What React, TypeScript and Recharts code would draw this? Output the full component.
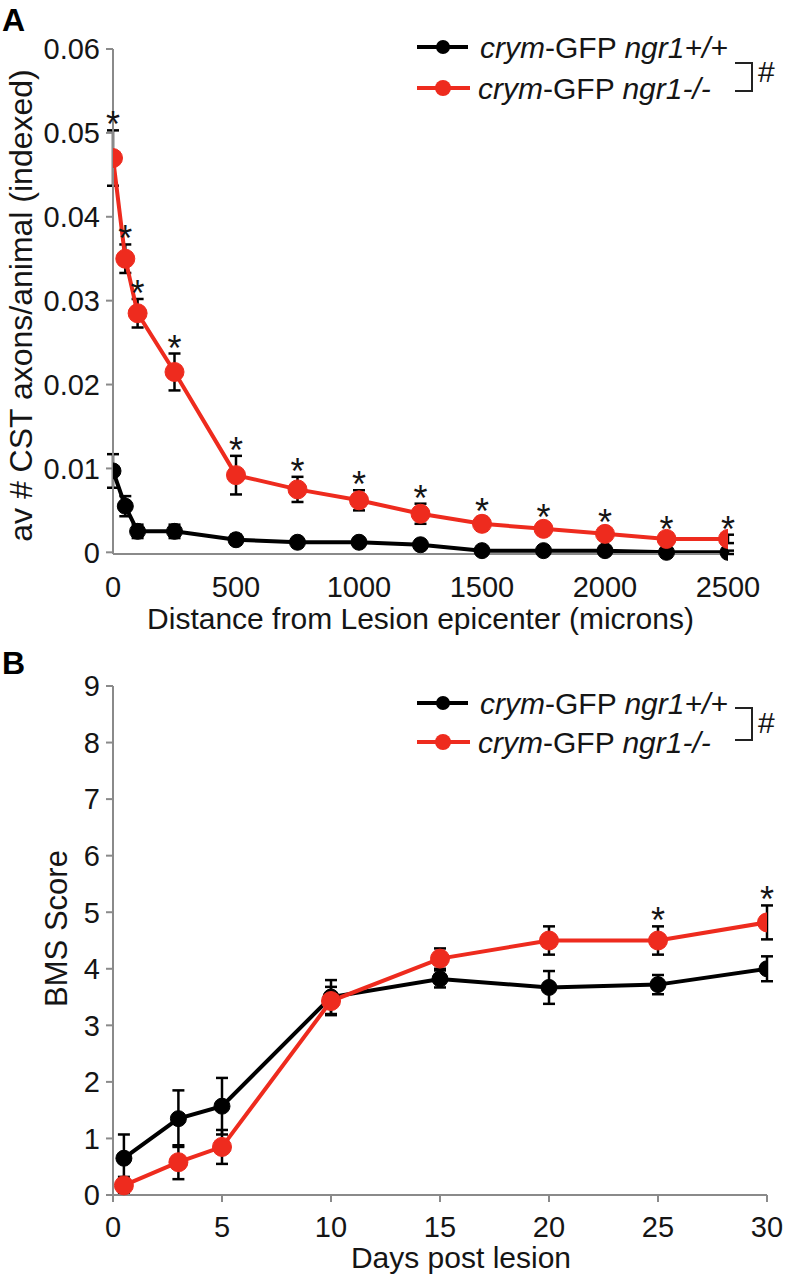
import React from "react";
import { LineChart, Line, XAxis, YAxis, ErrorBar, Legend, LabelList, Label } from "recharts";

// Panel A: CST axons vs distance from lesion
const distance = [0, 50, 100, 250, 500, 750, 1000, 1250, 1500, 1750, 2000, 2250, 2500];
const axonsWT = [0.0097, 0.0055, 0.0025, 0.0025, 0.0015, 0.0012, 0.0012, 0.0009, 0.0002, 0.0002, 0.0002, 0.0, 0.0];
const axonsWTErr = [0.002, 0.0012, 0.0008, 0.0008, 0.0006, 0.0004, 0.0004, 0.0004, 0.0003, 0.0003, 0.0003, 0.0002, 0.0002];
const axonsKO = [0.047, 0.035, 0.0285, 0.0215, 0.0092, 0.0075, 0.0062, 0.0046, 0.0034, 0.0028, 0.0022, 0.0016, 0.0016];
const axonsKOErr = [0.0033, 0.0017, 0.0017, 0.0022, 0.0023, 0.0015, 0.0012, 0.0012, 0.0008, 0.0007, 0.0007, 0.0005, 0.0005];
const axonsSig = [true, true, true, true, true, true, true, true, true, true, true, true, true];
const distanceTicks = [0, 500, 1000, 1500, 2000, 2500];
const axonsTicks = [0, 0.01, 0.02, 0.03, 0.04, 0.05, 0.06];

// Panel B: BMS score vs days post lesion
const days = [0.5, 3, 5, 10, 15, 20, 25, 30];
const bmsWT = [0.65, 1.35, 1.57, 3.5, 3.82, 3.67, 3.72, 4.0];
const bmsWTErr = [0.42, 0.5, 0.5, 0.3, 0.15, 0.29, 0.17, 0.22];
const bmsKO = [0.17, 0.58, 0.85, 3.43, 4.18, 4.5, 4.5, 4.82];
const bmsKOErr = [0.15, 0.3, 0.3, 0.25, 0.18, 0.25, 0.25, 0.3];
const bmsSig = [false, false, false, false, false, false, true, true];
const dayTicks = [0, 5, 10, 15, 20, 25, 30];
const bmsTicks = [0, 1, 2, 3, 4, 5, 6, 7, 8, 9];

const RED = "#ee2b1e";
const AXIS = "#8a8a8a";
const INK = "#151515";
const FONT = "Liberation Sans, Arial, sans-serif";

const dataA = distance.map((x, i) => ({
  x, wt: axonsWT[i], wtErr: axonsWTErr[i], ko: axonsKO[i], koErr: axonsKOErr[i], sig: axonsSig[i],
}));
const dataB = days.map((x, i) => ({
  x, wt: bmsWT[i], wtErr: bmsWTErr[i], ko: bmsKO[i], koErr: bmsKOErr[i], sig: bmsSig[i],
}));

const starTop = (d: any) => (d.sig ? d.ko + d.koErr : null);

const Star = (props: any) => {
  const { x, y, value } = props;
  if (value == null || x == null || y == null) return null;
  return (
    <text x={x} y={y + 7} textAnchor="middle" fontSize={36} fontFamily={FONT} fill={INK}>
      *
    </text>
  );
};

const LegendBox = ({ redY, bracket, hashY }: any) => (
  <svg width={379} height={90}>
    <line x1={7} y1={17} x2={58} y2={17} stroke="#000" strokeWidth={4} />
    <circle cx={33} cy={17} r={7} fill="#000" />
    <line x1={7} y1={redY} x2={60} y2={redY} stroke={RED} strokeWidth={4} />
    <circle cx={33} cy={redY} r={8} fill={RED} />
    <text x={70} y={28} fontSize={30} fontFamily={FONT} fill={INK}>
      <tspan fontStyle="italic">crym</tspan>-GFP <tspan fontStyle="italic">ngr1+/+</tspan>
    </text>
    <text x={68} y={redY + 11} fontSize={30} fontFamily={FONT} fill={INK}>
      <tspan fontStyle="italic">crym</tspan>-GFP <tspan fontStyle="italic">ngr1-/-</tspan>
    </text>
    <polyline points={`325,${bracket[0]} 342,${bracket[0]} 342,${bracket[1]} 325,${bracket[1]}`} fill="none" stroke="#222" strokeWidth={2} />
    <text x={348} y={hashY + 10} fontSize={30} fontFamily={FONT} fill={INK}>#</text>
  </svg>
);

const tickStyle = { fontSize: 29, fill: INK, fontFamily: FONT };

function Panel({
  data, xTicks, yTicks, xDomain, yDomain, marginTop, marginRight, xHeight, xTitle, yTitle, yTitleX, yTitleDy, yTitleSize,
  xTitleDx, xTitleDy, yFmt, xTickSize, xTickMargin, legendTop, legendProps,
}: any) {
  return (
    <LineChart width={789} height={640} data={data} margin={{ top: marginTop, right: marginRight, bottom: 0, left: 0 }}>
      <XAxis
        dataKey="x"
        type="number"
        domain={xDomain}
        ticks={xTicks}
        allowDataOverflow
        height={xHeight}
        stroke={AXIS}
        strokeWidth={2}
        tickSize={xTickSize}
        tickMargin={xTickMargin}
        tick={tickStyle}
        interval={0}
      >
        <Label
          content={({ viewBox }: any) => (
            <text x={viewBox.x + viewBox.width / 2 + xTitleDx} y={viewBox.y + xTitleDy} textAnchor="middle" fontSize={30} fontFamily={FONT} fill={INK}>
              {xTitle}
            </text>
          )}
        />
      </XAxis>
      <YAxis
        type="number"
        domain={yDomain}
        ticks={yTicks}
        width={113}
        stroke={AXIS}
        strokeWidth={2}
        tickSize={7}
        tickMargin={6}
        tick={tickStyle}
        tickFormatter={yFmt}
        interval={0}
      >
        <Label
          content={({ viewBox }: any) => {
            const cx = yTitleX;
            const cy = viewBox.y + viewBox.height / 2 + yTitleDy;
            return (
              <text x={cx} y={cy} transform={`rotate(-90 ${cx} ${cy})`} textAnchor="middle" dominantBaseline="central" fontSize={yTitleSize} fontFamily={FONT} fill={INK}>
                {yTitle}
              </text>
            );
          }}
        />
      </YAxis>
      <Legend
        layout="horizontal"
        verticalAlign="middle"
        align="center"
        wrapperStyle={{ position: "absolute", left: 410, top: legendTop, width: 379, height: 90 }}
        content={() => <LegendBox {...legendProps} />}
      />
      <Line
        dataKey="wt"
        stroke="#000"
        strokeWidth={4}
        dot={{ r: 8, fill: "#000", stroke: "#000", strokeWidth: 1 }}
        activeDot={false}
        isAnimationActive={false}
      >
        <ErrorBar dataKey="wtErr" direction="y" width={6} stroke="#000" strokeWidth={2.5} />
      </Line>
      <Line
        dataKey="ko"
        stroke={RED}
        strokeWidth={4}
        dot={{ r: 9.5, fill: RED, stroke: RED, strokeWidth: 1 }}
        activeDot={false}
        isAnimationActive={false}
      >
        <ErrorBar dataKey="koErr" direction="y" width={6} stroke="#000" strokeWidth={2.5} />
      </Line>
      <Line
        dataKey={starTop}
        stroke="none"
        dot={false}
        activeDot={false}
        legendType="none"
        isAnimationActive={false}
      >
        <LabelList dataKey={starTop} content={Star} />
      </Line>
    </LineChart>
  );
}

const fmtA = (v: number) => (v === 0 ? "0" : String(v));
const fmtB = (v: number) => String(v);

export default function App() {
  return (
    <div style={{ position: "absolute", left: 0, top: 0, width: 789, height: 1280, background: "#fff", fontFamily: FONT }}>
      <div style={{ position: "absolute", left: 0, top: 0 }}>
        <Panel
          data={dataA}
          xTicks={distanceTicks}
          yTicks={axonsTicks}
          xDomain={[0, 2500]}
          yDomain={[0, 0.06]}
          marginTop={49}
          marginRight={61}
          xHeight={86}
          xTitle="Distance from Lesion epicenter (microns)"
          xTitleDx={0}
          xTitleDy={75}
          yTitle="av # CST axons/animal (indexed)"
          yTitleX={21}
          yTitleDy={4}
          yTitleSize={32}
          yFmt={fmtA}
          xTickSize={0}
          xTickMargin={22}
          legendTop={30}
          legendProps={{ redY: 58, bracket: [33, 61], hashY: 42 }}
        />
      </div>
      <div style={{ position: "absolute", left: 0, top: 640 }}>
        <Panel
          data={dataB}
          xTicks={dayTicks}
          yTicks={bmsTicks}
          xDomain={[0, 30]}
          yDomain={[0, 9]}
          marginTop={46}
          marginRight={22}
          xHeight={85}
          xTitle="Days post lesion"
          xTitleDx={21}
          xTitleDy={73}
          yTitle="BMS Score"
          yTitleX={56}
          yTitleDy={-12}
          yTitleSize={31}
          yFmt={fmtB}
          xTickSize={7}
          xTickMargin={14}
          legendTop={46}
          legendProps={{ redY: 56, bracket: [22, 54], hashY: 37 }}
        />
      </div>
      <div style={{ position: "absolute", left: 2, top: 2, fontSize: 32, fontWeight: "bold", lineHeight: "normal" }}>A</div>
      <div style={{ position: "absolute", left: 2, top: 645, fontSize: 32, fontWeight: "bold", lineHeight: "normal" }}>B</div>
    </div>
  );
}
